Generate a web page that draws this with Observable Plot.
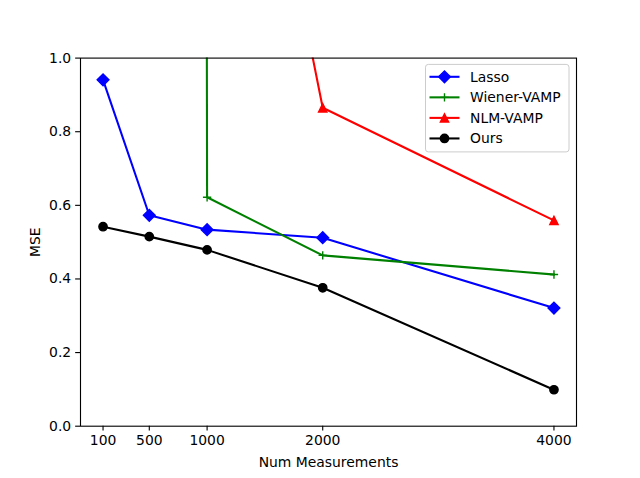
<!DOCTYPE html>
<html><head><meta charset="utf-8">
<script src="https://cdn.jsdelivr.net/npm/d3@7"></script>
<script src="https://cdn.jsdelivr.net/npm/@observablehq/plot@0.6"></script>
<style>
body{margin:0;background:#fff;}
#chart{position:relative;width:640px;height:478px;}
</style></head><body><div id="chart"></div>
<script>
const measurements = [100, 500, 1000, 2000, 4000];
const lasso = [0.941, 0.573, 0.534, 0.512, 0.321];
const wienerVamp = [150, 90, 0.622, 0.464, 0.412];
const nlmVamp = [6, 4.5, 2.44, 0.865, 0.559];
const ours = [0.542, 0.515, 0.479, 0.376, 0.099];
const xTicks = [100, 500, 1000, 2000, 4000];
const yTicks = [0, 0.2, 0.4, 0.6, 0.8, 1.0];
const seriesNames = ["Lasso", "Wiener-VAMP", "NLM-VAMP", "Ours"];
const seriesColors = ["#0000ff", "#008000", "#ff0000", "#000000"];
const seriesValues = [lasso, wienerVamp, nlmVamp, ours];

const rad = s => Math.sqrt(s / Math.PI);
const diamondSym = {draw(c, s){const r = rad(s); c.moveTo(0,-r); c.lineTo(r,0); c.lineTo(0,r); c.lineTo(-r,0); c.closePath();}};
const plusSym = {draw(c, s){const r = rad(s); c.moveTo(-r,0); c.lineTo(r,0); c.moveTo(0,-r); c.lineTo(0,r);}};
const triSym = {draw(c, s){const r = rad(s); c.moveTo(0,-r); c.lineTo(r,r); c.lineTo(-r,r); c.closePath();}};
const circSym = {draw(c, s){const r = rad(s); c.moveTo(r,0); c.arc(0,0,r,0,2*Math.PI); c.closePath();}};
const symbols = [diamondSym, plusSym, triSym, circSym];
const radii = [5.89, 4.17, 4.17, 4.17];
const filled = [true, false, true, true];

const rows = [];
seriesNames.forEach((name, k) => {
  measurements.forEach((m, i) => rows.push({series: name, k, x: m, y: seriesValues[k][i]}));
});

const seriesMarks = [];
seriesNames.forEach((name, k) => {
  const data = rows.filter(d => d.k === k);
  seriesMarks.push(Plot.line(data, {x: "x", y: "y", stroke: seriesColors[k], strokeWidth: 2.08, strokeLinejoin: "round", strokeLinecap: "square", clip: true}));
  seriesMarks.push(Plot.dot(data, {x: "x", y: "y", symbol: symbols[k], r: radii[k],
    fill: filled[k] ? seriesColors[k] : "none", stroke: seriesColors[k], strokeWidth: 1.39, clip: true}));
});

const plot = Plot.plot({
  width: 640, height: 478,
  marginLeft: 80, marginRight: 64, marginTop: 57.6, marginBottom: 52.3,
  style: {fontFamily: "DejaVu Sans", fontSize: "13.9px", background: "white", color: "black"},
  x: {domain: [-95, 4195]},
  y: {domain: [0, 1]},
  marks: [
    ...seriesMarks,
    Plot.frame({stroke: "black", strokeWidth: 1.11}),
    Plot.axisX({ticks: xTicks, tickFormat: d => String(d), tickSize: 4.86, tickPadding: 4.5, label: null, strokeWidth: 1.11, fontSize: 13.9}),
    Plot.axisY({ticks: yTicks, tickFormat: d3.format(".1f"), tickSize: 4.86, tickPadding: 4.5, label: null, strokeWidth: 1.11, fontSize: 13.9}),
    Plot.text(["Num Measurements"], {frameAnchor: "bottom", lineAnchor: "middle", textAnchor: "middle", dy: 36, fontSize: 13.9, fill: "black"}),
    Plot.text(["MSE"], {frameAnchor: "left", lineAnchor: "middle", textAnchor: "middle", dx: -45, rotate: -90, fontSize: 13.9, fill: "black"})
  ]
});
document.getElementById("chart").appendChild(plot);

// Legend inside the top-right of the frame
const svgSel = d3.select(plot);
const xr = plot.scale("x").range, yr = plot.scale("y").range;
const frameRight = Math.max(...xr), frameTop = Math.min(...yr);
const lw = 143.5, lh = 87.5;
const lx = frameRight - 7 - lw, ly = frameTop + 6.8;
const g = svgSel.append("g").attr("font-family", "DejaVu Sans").attr("font-size", 13.9).attr("text-anchor", "start");
g.append("rect").attr("x", lx).attr("y", ly).attr("width", lw).attr("height", lh)
  .attr("rx", 2.8).attr("fill", "white").attr("fill-opacity", 0.8).attr("stroke", "#cccccc").attr("stroke-width", 1);
seriesNames.forEach((name, k) => {
  const cy = ly + 12.4 + k * 20.55;
  const x0 = lx + 4, x1 = lx + 34, xm = (x0 + x1) / 2;
  g.append("line").attr("x1", x0).attr("x2", x1).attr("y1", cy).attr("y2", cy)
    .attr("stroke", seriesColors[k]).attr("stroke-width", 2.08);
  const p = d3.path();
  symbols[k].draw(p, Math.PI * radii[k] * radii[k]);
  g.append("path").attr("d", p.toString()).attr("transform", `translate(${xm},${cy})`)
    .attr("fill", filled[k] ? seriesColors[k] : "none").attr("stroke", seriesColors[k]).attr("stroke-width", 1.39);
  g.append("text").attr("x", lx + 44.5).attr("y", cy).attr("dy", "0.35em").attr("fill", "black").attr("text-anchor", "start").text(name);
});
</script></body></html>
